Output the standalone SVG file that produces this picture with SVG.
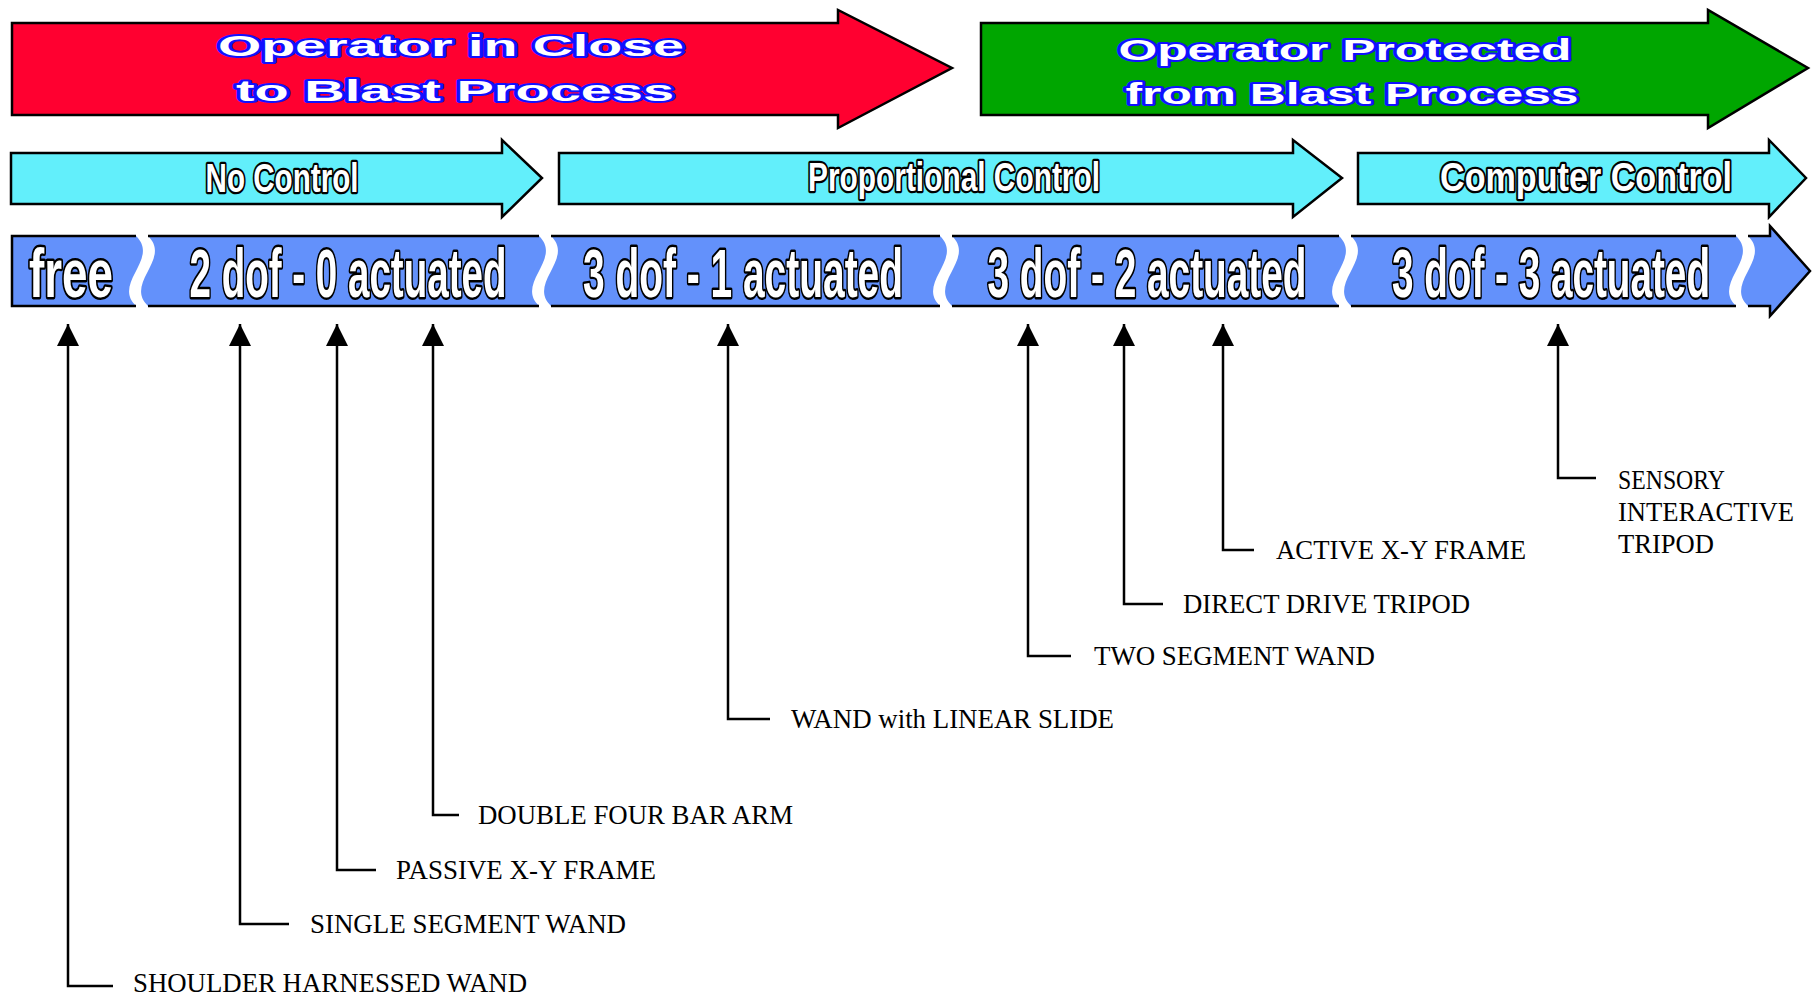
<svg xmlns="http://www.w3.org/2000/svg" width="1815" height="997" viewBox="0 0 1815 997">
<defs>
<style>
.phase{stroke:#000;stroke-width:2.5;stroke-linejoin:miter}
.ptxt{font-family:"Liberation Sans",Arial,sans-serif;font-weight:bold;font-size:29px;fill:#fff;stroke:#1010ff;stroke-width:4;paint-order:stroke;stroke-linejoin:round}
.ctrl{fill:#62effb;stroke:#000;stroke-width:2.5}
.ctxt{font-family:"Liberation Sans",Arial,sans-serif;font-weight:bold;font-size:30px;fill:#fff;stroke:#000;stroke-width:4;paint-order:stroke;stroke-linejoin:round;vector-effect:non-scaling-stroke}
.seg{fill:#6391fb;stroke:none}
.edge{fill:none;stroke:#000;stroke-width:2.5}
.btxt{font-family:"Liberation Sans",Arial,sans-serif;font-weight:bold;font-size:38.5px;fill:#fff;stroke:#000;stroke-width:4;paint-order:stroke;stroke-linejoin:round;vector-effect:non-scaling-stroke}
.lbl{font-family:"Liberation Serif","Times New Roman",serif;font-size:27px;fill:#000}
.con{fill:none;stroke:#000;stroke-width:2.5;marker-start:url(#ah)}
</style>
<marker id="ah" markerUnits="userSpaceOnUse" markerWidth="22" markerHeight="22" viewBox="0 0 22 22" refX="22" refY="11" orient="auto-start-reverse">
<path d="M0,0 L22,11 L0,22 Z" fill="#000"/>
</marker>
</defs>
<rect width="1815" height="997" fill="#fff"/>

<g id="phase-close">
<path class="phase" fill="#ff0030" d="M12,23 H838 V10 L952,68 L838,128 V115 H12 Z"/>
<text class="ptxt" x="451" y="56" text-anchor="middle" textLength="466" lengthAdjust="spacingAndGlyphs">Operator in Close</text>
<text class="ptxt" x="455" y="101" text-anchor="middle" textLength="438" lengthAdjust="spacingAndGlyphs">to Blast Process</text>
</g>
<g id="phase-protected">
<path class="phase" fill="#00a600" d="M981,23 H1708 V10 L1808,68 L1708,128 V115 H981 Z"/>
<text class="ptxt" x="1345" y="60" text-anchor="middle" textLength="453" lengthAdjust="spacingAndGlyphs">Operator Protected</text>
<text class="ptxt" x="1352" y="104" text-anchor="middle" textLength="453" lengthAdjust="spacingAndGlyphs">from Blast Process</text>
</g>

<g id="ctrl-none">
<path class="ctrl" d="M11,153 H502 V140 L542,178 L502,217 V204 H11 Z"/>
<text class="ctxt" transform="translate(282,192) scale(1,1.37)" text-anchor="middle" textLength="153" lengthAdjust="spacingAndGlyphs">No Control</text>
</g>
<g id="ctrl-proportional">
<path class="ctrl" d="M559,153 H1293 V140 L1342,178 L1293,217 V204 H559 Z"/>
<text class="ctxt" transform="translate(954,191) scale(1,1.37)" text-anchor="middle" textLength="292" lengthAdjust="spacingAndGlyphs">Proportional Control</text>
</g>
<g id="ctrl-computer">
<path class="ctrl" d="M1358,153 H1769 V140 L1806,178 L1769,217 V204 H1358 Z"/>
<text class="ctxt" transform="translate(1586,191) scale(1,1.37)" text-anchor="middle" textLength="292" lengthAdjust="spacingAndGlyphs">Computer Control</text>
</g>

<g id="seg-free">
<path class="seg" d="M12,236 H136 C160,259 112,283 136,306 H12 Z"/>
<path class="edge" d="M136,236 H12 V306 H136"/>
<text class="btxt" transform="translate(71,297) scale(1,1.77)" text-anchor="middle" textLength="84" lengthAdjust="spacingAndGlyphs">free</text>
</g>
<g id="seg-2dof0">
<path class="seg" d="M148,236 H539 C563,259 515,283 539,306 H148 C124,283 172,259 148,236 Z"/>
<path class="edge" d="M148,236 H539 M148,306 H539"/>
<text class="btxt" transform="translate(348,297) scale(1,1.77)" text-anchor="middle" textLength="317" lengthAdjust="spacingAndGlyphs">2 dof - 0 actuated</text>
</g>
<g id="seg-3dof1">
<path class="seg" d="M551,236 H940 C964,259 916,283 940,306 H551 C527,283 575,259 551,236 Z"/>
<path class="edge" d="M551,236 H940 M551,306 H940"/>
<text class="btxt" transform="translate(743,297) scale(1,1.77)" text-anchor="middle" textLength="320" lengthAdjust="spacingAndGlyphs">3 dof - 1 actuated</text>
</g>
<g id="seg-3dof2">
<path class="seg" d="M952,236 H1339 C1363,259 1315,283 1339,306 H952 C928,283 976,259 952,236 Z"/>
<path class="edge" d="M952,236 H1339 M952,306 H1339"/>
<text class="btxt" transform="translate(1147,297) scale(1,1.77)" text-anchor="middle" textLength="319" lengthAdjust="spacingAndGlyphs">3 dof - 2 actuated</text>
</g>
<g id="seg-3dof3">
<path class="seg" d="M1351,236 H1736 C1760,259 1712,283 1736,306 H1351 C1327,283 1375,259 1351,236 Z"/>
<path class="edge" d="M1351,236 H1736 M1351,306 H1736"/>
<text class="btxt" transform="translate(1551,297) scale(1,1.77)" text-anchor="middle" textLength="318" lengthAdjust="spacingAndGlyphs">3 dof - 3 actuated</text>
</g>
<g id="seg-end">
<path class="seg" d="M1748,236 H1770 V226 L1810,271 L1770,316 V306 H1748 C1724,283 1772,259 1748,236 Z"/>
<path class="edge" d="M1748,236 H1770 V226 L1810,271 L1770,316 V306 H1748"/>
</g>

<g id="connectors">
<path class="con" d="M68,324 V986 H113"/>
<path class="con" d="M240,324 V924 H289"/>
<path class="con" d="M337,324 V870 H376"/>
<path class="con" d="M433,324 V815 H459"/>
<path class="con" d="M728,324 V719 H770"/>
<path class="con" d="M1028,324 V656 H1071"/>
<path class="con" d="M1124,324 V604 H1163"/>
<path class="con" d="M1223,324 V550 H1254"/>
<path class="con" d="M1558,324 V478 H1596"/>
</g>

<g id="label-shoulder"><text class="lbl" x="133" y="992" textLength="394" lengthAdjust="spacingAndGlyphs">SHOULDER HARNESSED WAND</text></g>
<g id="label-single"><text class="lbl" x="310" y="933" textLength="316" lengthAdjust="spacingAndGlyphs">SINGLE SEGMENT WAND</text></g>
<g id="label-passive"><text class="lbl" x="396" y="879" textLength="260" lengthAdjust="spacingAndGlyphs">PASSIVE X-Y FRAME</text></g>
<g id="label-double"><text class="lbl" x="478" y="824" textLength="315" lengthAdjust="spacingAndGlyphs">DOUBLE FOUR BAR ARM</text></g>
<g id="label-linear"><text class="lbl" x="791" y="728" textLength="323" lengthAdjust="spacingAndGlyphs">WAND with LINEAR SLIDE</text></g>
<g id="label-two"><text class="lbl" x="1094" y="665" textLength="281" lengthAdjust="spacingAndGlyphs">TWO SEGMENT WAND</text></g>
<g id="label-direct"><text class="lbl" x="1183" y="613" textLength="287" lengthAdjust="spacingAndGlyphs">DIRECT DRIVE TRIPOD</text></g>
<g id="label-active"><text class="lbl" x="1276" y="559" textLength="250" lengthAdjust="spacingAndGlyphs">ACTIVE X-Y FRAME</text></g>
<g id="label-sensory">
<text class="lbl" x="1618" y="489" textLength="107" lengthAdjust="spacingAndGlyphs">SENSORY</text>
<text class="lbl" x="1618" y="521" textLength="176" lengthAdjust="spacingAndGlyphs">INTERACTIVE</text>
<text class="lbl" x="1618" y="553" textLength="96" lengthAdjust="spacingAndGlyphs">TRIPOD</text>
</g>
</svg>
